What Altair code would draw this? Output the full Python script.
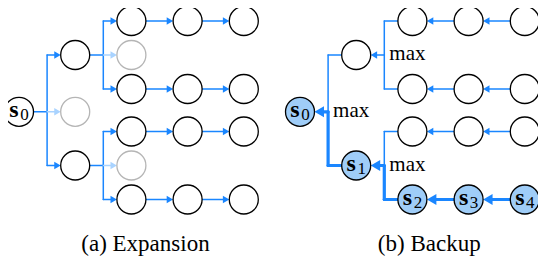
import math
import altair as alt
import pandas as pd

# ------------------------------------------------------------------ data
CAPTIONS = ["(a) Expansion", "(b) Backup"]
CAPTION_X = [2.25, 7.3]           # tree units (level axis)
CAPTION_Y = 6.76                  # tree units (slot axis)
MAX_LABEL = "max"

# panel (a): expansion tree  (level, slot) of parents and the slots of their children
A_PARENTS = [(0, 2.67), (1, 1.0), (1, 4.25)]
A_CHILDREN = [[1.0, 2.67, 4.25], [0.0, 1.0, 2.0], [3.25, 4.25, 5.25]]
A_PRUNED = [[False, True, False], [False, True, False], [False, True, False]]
ROLLOUT_SLOTS = [0.0, 2.0, 3.25, 5.25]
ROLLOUT_LEVELS = [2, 3, 4]

# panel (b): backup tree
B_SHIFT = 5
B_PARENTS = [(0, 2.67), (1, 1.0), (1, 4.25)]
B_CHILDREN = [[1.0, 4.25], [0.0, 2.0], [3.25, 5.25]]
B_BEST = [4.25, None, 5.25]
PATH_NODES = [(0, 2.67, "0"), (1, 4.25, "1"), (2, 5.25, "2"), (3, 5.25, "3"), (4, 5.25, "4")]

# ------------------------------------------------------------------ style
UX, UY = 56.2, 34.0       # px per level / per slot
X0, Y0 = 11.0, 13.0       # px position of level 0 / slot 0
W, H = 530, 248
R = 14.5                  # node radius px
rx = R / UX
BLUE = "#1a86ff"
LIGHT = "#a9d3ff"
HL_FILL = "#9fcdf8"
GRAY = "#b5b5b5"
THIN, THICK = 1.5, 3.2
A_THIN, A_THICK = 55, 120
SERIF = "Liberation Serif, Times New Roman, Times, DejaVu Serif, serif"


def ah(size):
    return math.sqrt(3) / 2 * math.sqrt(size) / 2


segs, arrows, nodes, s_labels, max_labels = [], [], [], [], []


def seg(x, y, x2, y2, color, w):
    segs.append(dict(x=x, y=y, x2=x2, y2=y2, color=color, w=w))


def arrow(x, y, shape, color, size):
    arrows.append(dict(x=x, y=y, shape=shape, color=color, size=size))


def node(x, y, fill, stroke):
    nodes.append(dict(x=x, y=y, fill=fill, stroke=stroke))


# ---- panel (a)
for (l, yp), kids, pr in zip(A_PARENTS, A_CHILDREN, A_PRUNED):
    bx = l + 0.5
    seg(l + rx, yp, bx, yp, BLUE, THIN)
    seg(bx, min(kids), bx, max(kids), BLUE, THIN)
    for c, p in zip(kids, pr):
        col = LIGHT if p else BLUE
        ac = l + 1 - rx - ah(A_THIN) / UX
        seg(bx, c, ac, c, col, THIN)
        arrow(ac, c, "triangle-right", col, A_THIN)
for s in ROLLOUT_SLOTS:
    for l in ROLLOUT_LEVELS[:-1]:
        ac = l + 1 - rx - ah(A_THIN) / UX
        seg(l + rx, s, ac, s, BLUE, THIN)
        arrow(ac, s, "triangle-right", BLUE, A_THIN)

node(0, 2.67, "white", "black")
s_labels.append(dict(x=0, y=2.67, d="0"))
for (l, yp), kids, pr in zip(A_PARENTS, A_CHILDREN, A_PRUNED):
    for c, p in zip(kids, pr):
        node(l + 1, c, "white", GRAY if p else "black")
for s in ROLLOUT_SLOTS:
    for l in ROLLOUT_LEVELS[1:]:
        node(l, s, "white", "black")

# ---- panel (b)
path_set = {(l, y) for l, y, _ in PATH_NODES}
for (l, yp), kids, best in zip(B_PARENTS, B_CHILDREN, B_BEST):
    on_path = (l, yp) in path_set
    bx = l + 0.5 + B_SHIFT
    seg(bx, min(kids), bx, max(kids), BLUE, THIN)
    for c in kids:
        thick = on_path and c == best
        seg(l + 1 - rx + B_SHIFT, c, bx, c, BLUE, THICK if thick else THIN)
    if on_path:
        seg(bx, yp, bx, best, BLUE, THICK)
    size = A_THICK if on_path else A_THIN
    ac = l + rx + B_SHIFT + ah(size) / UX
    seg(bx, yp, ac, yp, BLUE, THICK if on_path else THIN)
    arrow(ac, yp, "triangle-left", BLUE, size)
    max_labels.append(dict(x=bx, y=yp, t=MAX_LABEL))
for s in ROLLOUT_SLOTS:
    for l in ROLLOUT_LEVELS[1:]:
        thick = (l, s) in path_set
        size = A_THICK if thick else A_THIN
        ac = l - 1 + rx + B_SHIFT + ah(size) / UX
        seg(l - rx + B_SHIFT, s, ac, s, BLUE, THICK if thick else THIN)
        arrow(ac, s, "triangle-left", BLUE, size)

node(B_SHIFT, 2.67, HL_FILL, "black")
for (l, yp), kids in zip(B_PARENTS, B_CHILDREN):
    for c in kids:
        node(l + 1 + B_SHIFT, c, HL_FILL if (l + 1, c) in path_set else "white", "black")
for s in ROLLOUT_SLOTS:
    for l in ROLLOUT_LEVELS[1:]:
        node(l + B_SHIFT, s, HL_FILL if (l, s) in path_set else "white", "black")
for l, y, d in PATH_NODES:
    s_labels.append(dict(x=l + B_SHIFT, y=y, d=d))

caps = pd.DataFrame(dict(x=CAPTION_X, y=[CAPTION_Y] * 2, t=CAPTIONS))

# ------------------------------------------------------------------ scales
xs = alt.Scale(domain=[-X0 / UX, (W - X0) / UX], nice=False, zero=False)
ys = alt.Scale(domain=[-Y0 / UY, (H - Y0) / UY], nice=False, zero=False, reverse=True)


def X(f="x"):
    return alt.X(f, type="quantitative", scale=xs, axis=None)


def Y(f="y"):
    return alt.Y(f, type="quantitative", scale=ys, axis=None)


rules = alt.Chart(pd.DataFrame(segs)).mark_rule(strokeCap="round").encode(
    x=X(), x2="x2:Q", y=Y(), y2="y2:Q",
    color=alt.Color("color:N", scale=None),
    strokeWidth=alt.StrokeWidth("w:Q", scale=None),
)

heads = alt.Chart(pd.DataFrame(arrows)).mark_point(filled=True, opacity=1, strokeWidth=0).encode(
    x=X(), y=Y(),
    shape=alt.Shape("shape:N", scale=None),
    size=alt.Size("size:Q", scale=None),
    color=alt.Color("color:N", scale=None),
)

circles = alt.Chart(pd.DataFrame(nodes)).mark_point(
    shape="circle", size=(2 * R) ** 2, filled=True, opacity=1, fillOpacity=1, strokeWidth=1.3
).encode(
    x=X(), y=Y(),
    fill=alt.Fill("fill:N", scale=None),
    stroke=alt.Stroke("stroke:N", scale=None),
)

sdf = pd.DataFrame(s_labels)
s_text = alt.Chart(sdf).mark_text(
    text="s", font=SERIF, fontWeight="bold", fontSize=24, dx=-5, dy=5,
    align="center", baseline="alphabetic", color="black"
).encode(x=X(), y=Y())
d_text = alt.Chart(sdf).mark_text(
    font=SERIF, fontSize=17, dx=5.5, dy=8.5, align="center", baseline="alphabetic", color="black"
).encode(x=X(), y=Y(), text="d:N")

max_text = alt.Chart(pd.DataFrame(max_labels)).mark_text(
    font=SERIF, fontSize=21, dx=5, dy=5, align="left", baseline="alphabetic", color="black"
).encode(x=X(), y=Y(), text="t:N")

cap_text = alt.Chart(caps).mark_text(
    font=SERIF, fontSize=23, align="center", baseline="alphabetic", color="black"
).encode(x=X(), y=Y(), text="t:N")

chart = alt.layer(rules, heads, circles, s_text, d_text, max_text, cap_text).properties(
    width=W, height=H, padding=0, autosize=alt.AutoSizeParams(type="none")
).configure_view(strokeWidth=0)

chart.save("out.html", embed_options={"renderer": "svg", "actions": False})
